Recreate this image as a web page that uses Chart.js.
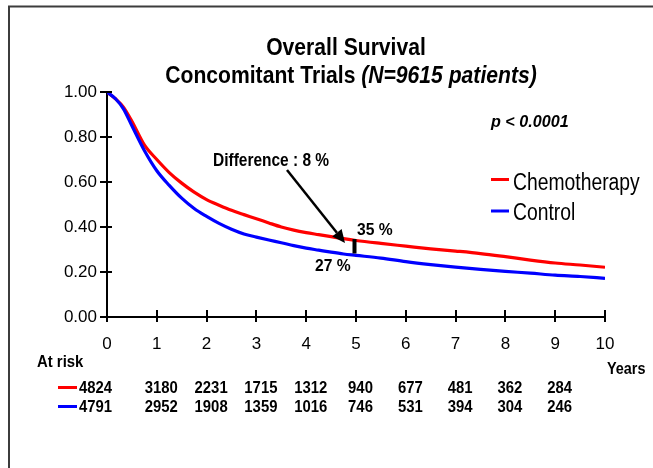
<!DOCTYPE html>
<html>
<head>
<meta charset="utf-8">
<script src="https://cdn.jsdelivr.net/npm/chart.js@4/dist/chart.umd.min.js"></script>
<style>
  html, body { margin: 0; padding: 0; background: #fff; }
  #wrap { position: relative; width: 653px; height: 468px; }
</style>
</head>
<body>
<div id="wrap"><canvas id="c" width="653" height="468"></canvas></div>
<script>
// ---- data ----
const years = [0, 0.17, 0.33, 0.5, 0.75, 1, 1.25, 1.5, 1.75, 2, 2.25, 2.5, 2.75, 3, 3.25, 3.5, 3.75, 4, 4.25, 4.5, 4.75, 5, 5.5, 6, 6.5, 7, 7.5, 8, 8.5, 9, 9.5, 10];
const chemotherapy = [1.00, 0.97, 0.933, 0.87, 0.765, 0.70, 0.642, 0.595, 0.555, 0.522, 0.497, 0.474, 0.455, 0.437, 0.418, 0.400, 0.386, 0.375, 0.366, 0.357, 0.348, 0.340, 0.327, 0.315, 0.303, 0.293, 0.282, 0.268, 0.253, 0.240, 0.231, 0.221];
const control = [1.00, 0.97, 0.925, 0.85, 0.74, 0.65, 0.585, 0.528, 0.482, 0.447, 0.416, 0.39, 0.369, 0.355, 0.342, 0.33, 0.317, 0.306, 0.297, 0.288, 0.28, 0.274, 0.262, 0.246, 0.233, 0.222, 0.212, 0.203, 0.195, 0.186, 0.180, 0.172];
const atRiskYears = [0, 1, 2, 3, 4, 5, 6, 7, 8, 9];
const atRiskChemo = [4824, 3180, 2231, 1715, 1312, 940, 677, 481, 362, 284];
const atRiskControl = [4791, 2952, 1908, 1359, 1016, 746, 531, 394, 304, 246];
const seriesNames = ['Chemotherapy', 'Control'];
const seriesColors = ['#ff0000', '#0000ff'];
const titleLine1 = 'Overall Survival';
const titleLine2a = 'Concomitant Trials ';
const titleLine2b = '(N=9615 patients)';
const pValueText = 'p < 0.0001';
const diffText = 'Difference : 8 %';
const diffYear = 5;
const chemoAt5Text = '35 %';
const controlAt5Text = '27 %';

const FONT = '"Liberation Sans", Arial, sans-serif';

function txt(ctx, s, x, y, font, align, sx, color) {
  ctx.save();
  ctx.font = font;
  ctx.fillStyle = color || '#000';
  ctx.textBaseline = 'alphabetic';
  ctx.textAlign = align || 'left';
  ctx.translate(x, y);
  ctx.scale(sx || 1, 1);
  ctx.fillText(s, 0, 0);
  ctx.restore();
}
function width(ctx, s, font, sx) {
  ctx.save(); ctx.font = font; const w = ctx.measureText(s).width; ctx.restore();
  return w * (sx || 1);
}

const decor = {
  id: 'decor',
  beforeDraw(chart) {
    const ctx = chart.ctx;
    ctx.save();
    ctx.fillStyle = '#fff';
    ctx.fillRect(0, 0, chart.width, chart.height);
    // frame
    ctx.strokeStyle = '#3c3c3c';
    ctx.lineWidth = 2;
    ctx.beginPath();
    ctx.moveTo(9, chart.height);
    ctx.lineTo(9, 6.5);
    ctx.lineTo(chart.width, 6.5);
    ctx.stroke();
    ctx.restore();
  },
  afterDraw(chart) {
    const ctx = chart.ctx;
    const xs = chart.scales.x, ys = chart.scales.y;
    ctx.save();
    // tick marks crossing the axes
    ctx.strokeStyle = '#000';
    ctx.lineWidth = 2;
    ys.ticks.forEach(t => {
      const y = Math.round(ys.getPixelForValue(t.value));
      ctx.beginPath(); ctx.moveTo(xs.left - 7, y); ctx.lineTo(xs.left + 5, y); ctx.stroke();
    });
    xs.ticks.forEach(t => {
      const x = Math.round(xs.getPixelForValue(t.value));
      ctx.beginPath(); ctx.moveTo(x, ys.bottom - 7); ctx.lineTo(x, ys.bottom + 5); ctx.stroke();
    });

    // title
    const tf = 'bold 24px ' + FONT;
    const tfi = 'italic bold 24px ' + FONT;
    const tsx = 0.88;
    txt(ctx, titleLine1, 346, 55, tf, 'center', tsx);
    const wa = width(ctx, titleLine2a, tf, tsx), wb = width(ctx, titleLine2b, tfi, tsx);
    const x0 = 351 - (wa + wb) / 2;
    txt(ctx, titleLine2a, x0, 83, tf, 'left', tsx);
    txt(ctx, titleLine2b, x0 + wa, 83, tfi, 'left', tsx);

    // p value
    txt(ctx, pValueText, 491, 127, 'italic bold 17px ' + FONT, 'left', 0.95);

    // legend
    const legY = [179.5, 211];
    const legBase = [189.5, 220];
    seriesNames.forEach((n, i) => {
      ctx.strokeStyle = seriesColors[i];
      ctx.lineWidth = 3;
      ctx.beginPath(); ctx.moveTo(491, legY[i]); ctx.lineTo(509, legY[i]); ctx.stroke();
      txt(ctx, n, 513, legBase[i], '23px ' + FONT, 'left', 0.84);
    });

    // difference annotation
    txt(ctx, diffText, 213, 166, 'bold 18px ' + FONT, 'left', 0.86);
    const ax1 = 287, ay1 = 170, ax2 = 345, ay2 = 243;
    ctx.strokeStyle = '#000'; ctx.fillStyle = '#000'; ctx.lineWidth = 2.5;
    const ang = Math.atan2(ay2 - ay1, ax2 - ax1);
    const hl = 13, hw = 6;
    const bx = ax2 - hl * Math.cos(ang), by = ay2 - hl * Math.sin(ang);
    ctx.beginPath(); ctx.moveTo(ax1, ay1); ctx.lineTo(bx, by); ctx.stroke();
    ctx.beginPath();
    ctx.moveTo(ax2, ay2);
    ctx.lineTo(bx + hw * Math.sin(ang), by - hw * Math.cos(ang));
    ctx.lineTo(bx - hw * Math.sin(ang), by + hw * Math.cos(ang));
    ctx.closePath(); ctx.fill();
    // bar between curves at 5 years
    const bxp = xs.getPixelForValue(diffYear) - 1.5;
    ctx.fillRect(bxp - 2, 239, 4, 14.5);
    txt(ctx, chemoAt5Text, 357, 235, 'bold 17px ' + FONT, 'left', 0.92);
    txt(ctx, controlAt5Text, 315, 271, 'bold 17px ' + FONT, 'left', 0.92);

    // at risk table
    const rf = 'bold 16px ' + FONT;
    txt(ctx, 'At risk', 37, 367, rf, 'left', 0.93);
    txt(ctx, 'Years', 607, 374, rf, 'left', 0.9);
    const rows = [atRiskChemo, atRiskControl];
    const rowBase = [393, 412];
    rows.forEach((r, ri) => {
      ctx.strokeStyle = seriesColors[ri];
      ctx.lineWidth = 3;
      ctx.beginPath(); ctx.moveTo(58, rowBase[ri] - 5.5); ctx.lineTo(77, rowBase[ri] - 5.5); ctx.stroke();
      r.forEach((v, i) => {
        if (i === 0) {
          txt(ctx, String(v), 79, rowBase[ri], rf, 'left', 0.93);
        } else {
          const cx = xs.getPixelForValue(atRiskYears[i]) + 4.5;
          txt(ctx, String(v), cx, rowBase[ri], rf, 'center', 0.93);
        }
      });
    });
    ctx.restore();
  }
};

new Chart(document.getElementById('c'), {
  type: 'line',
  data: {
    labels: years,
    datasets: [
      { label: seriesNames[0], data: years.map((x, i) => ({ x, y: chemotherapy[i] })), borderColor: seriesColors[0], borderWidth: 3.2, pointRadius: 0, cubicInterpolationMode: 'monotone', fill: false, order: 2 },
      { label: seriesNames[1], data: years.map((x, i) => ({ x, y: control[i] })), borderColor: seriesColors[1], borderWidth: 3.2, pointRadius: 0, cubicInterpolationMode: 'monotone', fill: false, order: 1 }
    ]
  },
  options: {
    responsive: false,
    animation: false,
    devicePixelRatio: 1,
    layout: { padding: { top: 92, right: 48, bottom: 0, left: 0 } },
    plugins: { legend: { display: false }, title: { display: false }, tooltip: { enabled: false } },
    scales: {
      x: {
        type: 'linear', min: 0, max: 10,
        afterFit(s) { s.height = 151; },
        ticks: { stepSize: 1, color: '#000', font: { family: FONT, size: 17 }, padding: 17, maxRotation: 0 },
        grid: { display: false, drawTicks: false },
        border: { display: true, color: '#000', width: 2 }
      },
      y: {
        min: 0, max: 1,
        afterFit(s) { s.width = 107; },
        ticks: { stepSize: 0.2, color: '#000', font: { family: FONT, size: 17 }, padding: 10, callback: v => v.toFixed(2) },
        grid: { display: false, drawTicks: false },
        border: { display: true, color: '#000', width: 2 }
      }
    }
  },
  plugins: [decor]
});
</script>
</body>
</html>
